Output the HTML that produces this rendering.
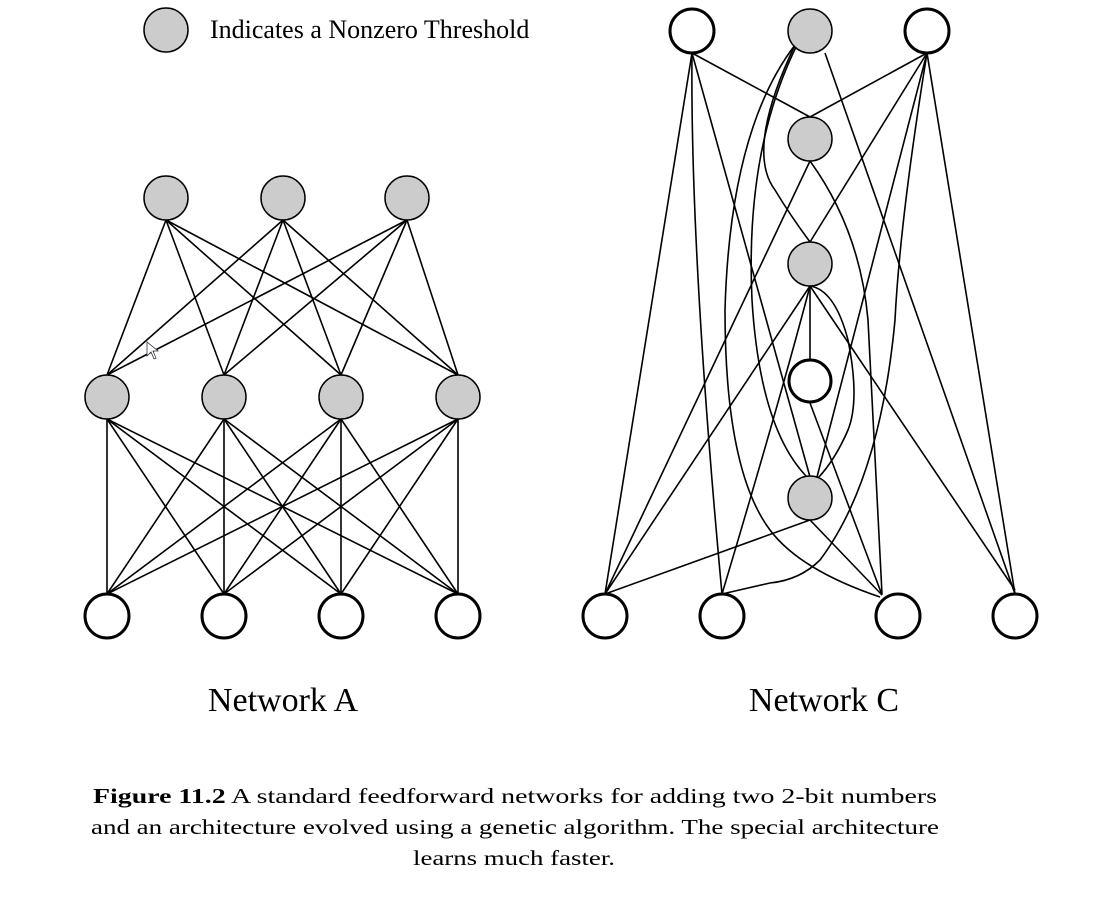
<!DOCTYPE html>
<html><head><meta charset="utf-8"><style>
html,body{margin:0;padding:0;background:#fff;}
svg{display:block;}
</style></head><body>
<svg width="1101" height="898" viewBox="0 0 1101 898" xmlns="http://www.w3.org/2000/svg">
<g stroke="#000" stroke-width="1.6" fill="none">
<!-- Network A top->middle -->
<line x1="166" y1="220" x2="107" y2="375"/><line x1="166" y1="220" x2="224" y2="375"/><line x1="166" y1="220" x2="341" y2="375"/><line x1="166" y1="220" x2="458" y2="375"/>
<line x1="283" y1="220" x2="107" y2="375"/><line x1="283" y1="220" x2="224" y2="375"/><line x1="283" y1="220" x2="341" y2="375"/><line x1="283" y1="220" x2="458" y2="375"/>
<line x1="407" y1="220" x2="107" y2="375"/><line x1="407" y1="220" x2="224" y2="375"/><line x1="407" y1="220" x2="341" y2="375"/><line x1="407" y1="220" x2="458" y2="375"/>
<!-- middle->bottom -->
<line x1="107" y1="419" x2="107" y2="594"/><line x1="107" y1="419" x2="224" y2="594"/><line x1="107" y1="419" x2="341" y2="594"/><line x1="107" y1="419" x2="458" y2="594"/>
<line x1="224" y1="419" x2="107" y2="594"/><line x1="224" y1="419" x2="224" y2="594"/><line x1="224" y1="419" x2="341" y2="594"/><line x1="224" y1="419" x2="458" y2="594"/>
<line x1="341" y1="419" x2="107" y2="594"/><line x1="341" y1="419" x2="224" y2="594"/><line x1="341" y1="419" x2="341" y2="594"/><line x1="341" y1="419" x2="458" y2="594"/>
<line x1="458" y1="419" x2="107" y2="594"/><line x1="458" y1="419" x2="224" y2="594"/><line x1="458" y1="419" x2="341" y2="594"/><line x1="458" y1="419" x2="458" y2="594"/>

<!-- Network C -->
<!-- T1 -->
<line x1="692" y1="53" x2="810" y2="117"/>
<line x1="692" y1="53" x2="605" y2="594"/>
<path d="M692 53 Q690 250 722 594"/>
<line x1="692" y1="53" x2="810" y2="477"/>
<!-- T2 -->
<path d="M795 45 Q730 130 725 310 Q725 470 770 530 Q800 570 880 597"/>
<path d="M797 45 Q745 150 752 300 Q760 430 808 478"/>
<path d="M795 45 Q745 150 775 190 Q790 215 810 242"/>
<line x1="825" y1="53" x2="1015" y2="594"/>
<!-- T3 -->
<line x1="927" y1="53" x2="810" y2="117"/>
<line x1="927" y1="53" x2="810" y2="242"/>
<line x1="927" y1="53" x2="817" y2="477"/>
<path d="M927 53 Q900 220 895 320 Q880 480 820 560 Q800 580 770 583 L722 594"/>
<line x1="927" y1="53" x2="1015" y2="594"/>
<!-- H1 -->
<line x1="810" y1="161" x2="605" y2="594"/>
<path d="M810 161 Q860 230 868 320 L882 594"/>
<!-- H2 -->
<line x1="810" y1="286" x2="810" y2="359"/>
<line x1="810" y1="286" x2="605" y2="594"/>
<path d="M810 286 Q780 400 722 594"/>
<line x1="810" y1="286" x2="1015" y2="590"/>
<path d="M810 286 Q835 290 848 340 Q860 400 848 430 Q835 460 818 478"/>
<!-- W -->
<line x1="810" y1="403" x2="882" y2="595"/>
<!-- H4 -->
<line x1="810" y1="520" x2="605" y2="594"/>
<line x1="810" y1="520" x2="882" y2="595"/>
</g>
<g stroke="#000" stroke-width="1.5" fill="#cccccc">
<circle cx="166" cy="30" r="22"/>
<circle cx="166" cy="198" r="22"/><circle cx="283" cy="198" r="22"/><circle cx="407" cy="198" r="22"/>
<circle cx="107" cy="397" r="22"/><circle cx="224" cy="397" r="22"/><circle cx="341" cy="397" r="22"/><circle cx="458" cy="397" r="22"/>
<circle cx="810" cy="31" r="22"/><circle cx="810" cy="139" r="22"/><circle cx="810" cy="264" r="22"/><circle cx="810" cy="498" r="22"/>
</g>
<g stroke="#000" stroke-width="3" fill="#fff">
<circle cx="107" cy="616" r="22"/><circle cx="224" cy="616" r="22"/><circle cx="341" cy="616" r="22"/><circle cx="458" cy="616" r="22"/>
<circle cx="692" cy="31" r="22"/><circle cx="927" cy="31" r="22"/><circle cx="810" cy="381" r="21"/>
<circle cx="605" cy="616" r="22"/><circle cx="722" cy="616" r="22"/><circle cx="898" cy="616" r="22"/><circle cx="1015" cy="616" r="22"/>
</g>
<path d="M147 342 L147 356 L151 352 L154 359 L156 358 L153 351 L158 351 Z" fill="#fff" stroke="#334" stroke-width="0.8"/>
<g font-family="Liberation Serif, serif" fill="#000">
<text x="210" y="38" font-size="26">Indicates a Nonzero Threshold</text>
<text x="283" y="711" font-size="34" text-anchor="middle">Network A</text>
<text x="824" y="711" font-size="34" text-anchor="middle">Network C</text>
<text x="93" y="803" font-size="21" textLength="844" lengthAdjust="spacingAndGlyphs"><tspan font-weight="bold">Figure 11.2</tspan>   A standard feedforward networks for adding two 2-bit numbers</text>
<text x="91" y="834" font-size="21" textLength="848" lengthAdjust="spacingAndGlyphs">and an architecture evolved using a genetic algorithm. The special architecture</text>
<text x="413" y="865" font-size="21" textLength="202" lengthAdjust="spacingAndGlyphs">learns much faster.</text>
</g>
</svg>
</body></html>
